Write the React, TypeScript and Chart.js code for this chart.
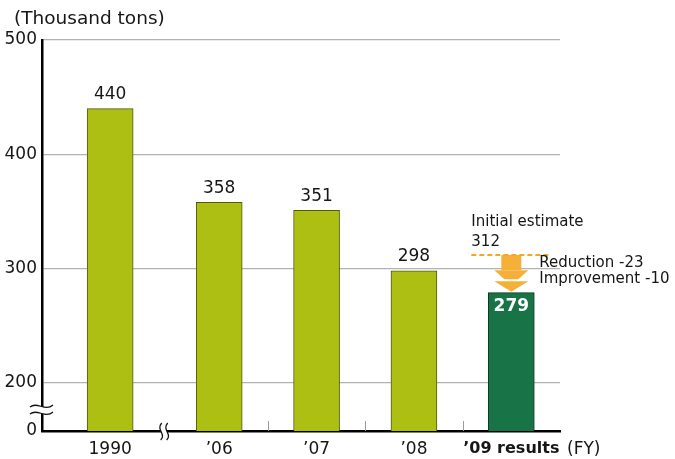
import React, { useEffect, useRef } from "react";
import { Chart, registerables } from "chart.js";

Chart.register(...registerables);

// CO2 emissions by fiscal year (thousand tons)
const categories = ["1990", "’06", "’07", "’08", "’09 results"];
const emissions = [440, 358, 351, 298, 279];
const yTickValues = [200, 300, 400, 500];
const initialEstimate = 312;
const reduction = -23;
const improvement = -10;

// Value placed on the broken baseline, which is labelled "0"
const AXIS_FLOOR = 158;
// Extra horizontal room after 1990 for the axis break
const BREAK_GAP = 0.12;

const FONT = "'DejaVu Sans', 'Noto Sans', sans-serif";
const LIME = "#adbf12";
const LIME_EDGE = "#4f5a10";
const GREEN = "#187446";
const GREEN_EDGE = "#0c3b22";
const ORANGE = "#f5b03a";
const DASH_ORANGE = "#f5a52a";
const TEXT = "#161616";

const xPositions = categories.map((_, i) => (i === 0 ? 0 : i + BREAK_GAP));

function drawWave(ctx: CanvasRenderingContext2D, pts: number[][]) {
  ctx.beginPath();
  ctx.moveTo(pts[0][0], pts[0][1]);
  ctx.bezierCurveTo(pts[1][0], pts[1][1], pts[2][0], pts[2][1], pts[3][0], pts[3][1]);
}

const extrasPlugin = {
  id: "emissionExtras",
  afterDraw(chart: any) {
    const ctx: CanvasRenderingContext2D = chart.ctx;
    const xs = chart.scales.x;
    const ys = chart.scales.y;
    const area = chart.chartArea;
    const bars = chart.getDatasetMeta(0).data;
    ctx.save();

    // unit caption
    ctx.fillStyle = TEXT;
    ctx.font = `18.5px ${FONT}`;
    ctx.textAlign = "left";
    ctx.textBaseline = "middle";
    ctx.fillText("(Thousand tons)", 14, 19);

    // fiscal-year caption after the last category
    ctx.font = `17px ${FONT}`;
    ctx.fillText("(FY)", area.right + 7, area.bottom + 19);

    // value labels
    bars.forEach((bar: any, i: number) => {
      if (i === emissions.length - 1) {
        ctx.fillStyle = "#ffffff";
        ctx.font = `bold 17px ${FONT}`;
        ctx.textAlign = "center";
        ctx.fillText(String(emissions[i]), bar.x, bar.y + 14);
      } else {
        ctx.fillStyle = TEXT;
        ctx.font = `17px ${FONT}`;
        ctx.textAlign = "center";
        ctx.fillText(String(emissions[i]), bar.x, bar.y - 14);
      }
    });

    // small separators between the recent years
    ctx.strokeStyle = "#9a9a9a";
    ctx.lineWidth = 1;
    for (let i = 1; i < xPositions.length - 1; i++) {
      const mx = Math.round(xs.getPixelForValue((xPositions[i] + xPositions[i + 1]) / 2)) + 0.5;
      ctx.beginPath();
      ctx.moveTo(mx, area.bottom - 10);
      ctx.lineTo(mx, area.bottom);
      ctx.stroke();
    }

    // y-axis break
    {
      const cx = area.left;
      const cy = ys.getPixelForValue(AXIS_FLOOR) - 23;
      const top = [[cx - 12, cy - 1], [cx - 5, cy - 7], [cx + 3, cy + 4], [cx + 11, cy - 3]];
      const bot = [[cx - 12, cy + 6], [cx - 5, cy], [cx + 3, cy + 11], [cx + 11, cy + 4]];
      ctx.fillStyle = "#ffffff";
      ctx.beginPath();
      ctx.moveTo(top[0][0], top[0][1]);
      ctx.bezierCurveTo(top[1][0], top[1][1], top[2][0], top[2][1], top[3][0], top[3][1]);
      ctx.lineTo(bot[3][0], bot[3][1]);
      ctx.bezierCurveTo(bot[2][0], bot[2][1], bot[1][0], bot[1][1], bot[0][0], bot[0][1]);
      ctx.closePath();
      ctx.fill();
      ctx.strokeStyle = "#111";
      ctx.lineWidth = 1.3;
      drawWave(ctx, top);
      ctx.stroke();
      drawWave(ctx, bot);
      ctx.stroke();
    }

    // x-axis break between 1990 and '06
    {
      const cx = xs.getPixelForValue((xPositions[0] + xPositions[1]) / 2);
      const cy = area.bottom;
      const left = [[cx - 3, cy - 8], [cx - 9, cy - 1], [cx + 2, cy + 3], [cx - 4, cy + 9]];
      const right = [[cx + 3, cy - 8], [cx - 3, cy - 1], [cx + 8, cy + 3], [cx + 2, cy + 9]];
      ctx.fillStyle = "#ffffff";
      ctx.beginPath();
      ctx.moveTo(left[0][0], left[0][1]);
      ctx.bezierCurveTo(left[1][0], left[1][1], left[2][0], left[2][1], left[3][0], left[3][1]);
      ctx.lineTo(right[3][0], right[3][1]);
      ctx.bezierCurveTo(right[2][0], right[2][1], right[1][0], right[1][1], right[0][0], right[0][1]);
      ctx.closePath();
      ctx.fill();
      ctx.strokeStyle = "#111";
      ctx.lineWidth = 1.3;
      drawWave(ctx, left);
      ctx.stroke();
      drawWave(ctx, right);
      ctx.stroke();
    }

    // initial estimate, reduction and improvement for the latest year
    const lastX = bars[bars.length - 1].x;
    const yEst = ys.getPixelForValue(initialEstimate);
    const yMid = ys.getPixelForValue(initialEstimate + reduction);
    const yEnd = ys.getPixelForValue(initialEstimate + reduction + improvement);

    ctx.fillStyle = TEXT;
    ctx.font = `15px ${FONT}`;
    ctx.textAlign = "left";
    ctx.fillText("Initial estimate", lastX - 40, yEst - 33);
    ctx.fillText(String(initialEstimate), lastX - 40, yEst - 13);

    ctx.fillStyle = ORANGE;
    // first arrow: reduction
    ctx.fillRect(lastX - 10, yEst, 20, yMid - 11 - yEst);
    ctx.beginPath();
    ctx.moveTo(lastX - 17, yMid - 11);
    ctx.lineTo(lastX + 17, yMid - 11);
    ctx.lineTo(lastX + 7, yMid - 2);
    ctx.lineTo(lastX - 7, yMid - 2);
    ctx.closePath();
    ctx.fill();
    // second arrow: improvement
    ctx.beginPath();
    ctx.moveTo(lastX - 17, yMid);
    ctx.lineTo(lastX + 17, yMid);
    ctx.lineTo(lastX, yEnd - 1);
    ctx.closePath();
    ctx.fill();

    ctx.strokeStyle = DASH_ORANGE;
    ctx.lineWidth = 2;
    ctx.setLineDash([5, 3]);
    ctx.beginPath();
    ctx.moveTo(lastX - 40, yEst);
    ctx.lineTo(lastX + 37, yEst);
    ctx.stroke();
    ctx.setLineDash([]);

    ctx.fillStyle = TEXT;
    ctx.font = `15px ${FONT}`;
    ctx.fillText(`Reduction ${reduction}`, lastX + 28, yEst + 8);
    ctx.fillText(`Improvement ${improvement}`, lastX + 28, yEst + 24);

    ctx.restore();
  },
};

export default function App() {
  const canvasRef = useRef<HTMLCanvasElement | null>(null);

  useEffect(() => {
    document.body.style.margin = "0";
    const canvas = canvasRef.current;
    if (!canvas) return;
    const lastIndex = emissions.length - 1;

    const chart = new Chart(canvas, {
      type: "bar",
      data: {
        datasets: [
          {
            data: emissions.map((v, i) => ({ x: xPositions[i], y: v })),
            backgroundColor: emissions.map((_, i) => (i === lastIndex ? GREEN : LIME)),
            borderColor: emissions.map((_, i) => (i === lastIndex ? GREEN_EDGE : LIME_EDGE)),
            borderWidth: 1,
            barThickness: 46,
          },
        ],
      },
      options: {
        responsive: false,
        animation: false,
        layout: { padding: { top: 40, right: 115, left: 0, bottom: 0 } },
        plugins: {
          legend: { display: false },
          tooltip: { enabled: false },
        },
        scales: {
          x: {
            type: "linear",
            min: -0.7,
            max: 4.62,
            offset: false,
            afterBuildTicks: (axis: any) => {
              axis.ticks = xPositions.map((v) => ({ value: v }));
            },
            afterFit: (axis: any) => {
              axis.height = 28;
            },
            grid: { display: false, drawTicks: false, offset: false },
            border: { display: true, color: "#000", width: 2.5 },
            ticks: {
              autoSkip: false,
              maxRotation: 0,
              padding: 8,
              color: TEXT,
              callback: (_v: any, i: number) => categories[i],
              font: (c: any) =>
                c.index === lastIndex
                  ? { family: FONT, size: 16, weight: "bold" }
                  : { family: FONT, size: 17, weight: "normal" },
            },
          },
          y: {
            type: "linear",
            min: AXIS_FLOOR,
            max: 500,
            afterBuildTicks: (axis: any) => {
              axis.ticks = [AXIS_FLOOR, ...yTickValues].map((v) => ({ value: v }));
            },
            afterFit: (axis: any) => {
              axis.width = 42;
            },
            grid: {
              drawTicks: false,
              tickLength: 0,
              lineWidth: 1.2,
              color: (c: any) => (c.tick && c.tick.value === AXIS_FLOOR ? "rgba(0,0,0,0)" : "#b2b2b2"),
            },
            border: { display: true, color: "#000", width: 2.5 },
            ticks: {
              padding: 5,
              color: TEXT,
              font: { family: FONT, size: 17 },
              callback: (v: any) => (v === AXIS_FLOOR ? "0" : String(v)),
            },
          },
        },
      },
      plugins: [extrasPlugin],
    } as any);

    return () => chart.destroy();
  }, []);

  return (
    <div style={{ width: 675, height: 459 }}>
      <canvas ref={canvasRef} width={675} height={459} style={{ display: "block" }} />
    </div>
  );
}
